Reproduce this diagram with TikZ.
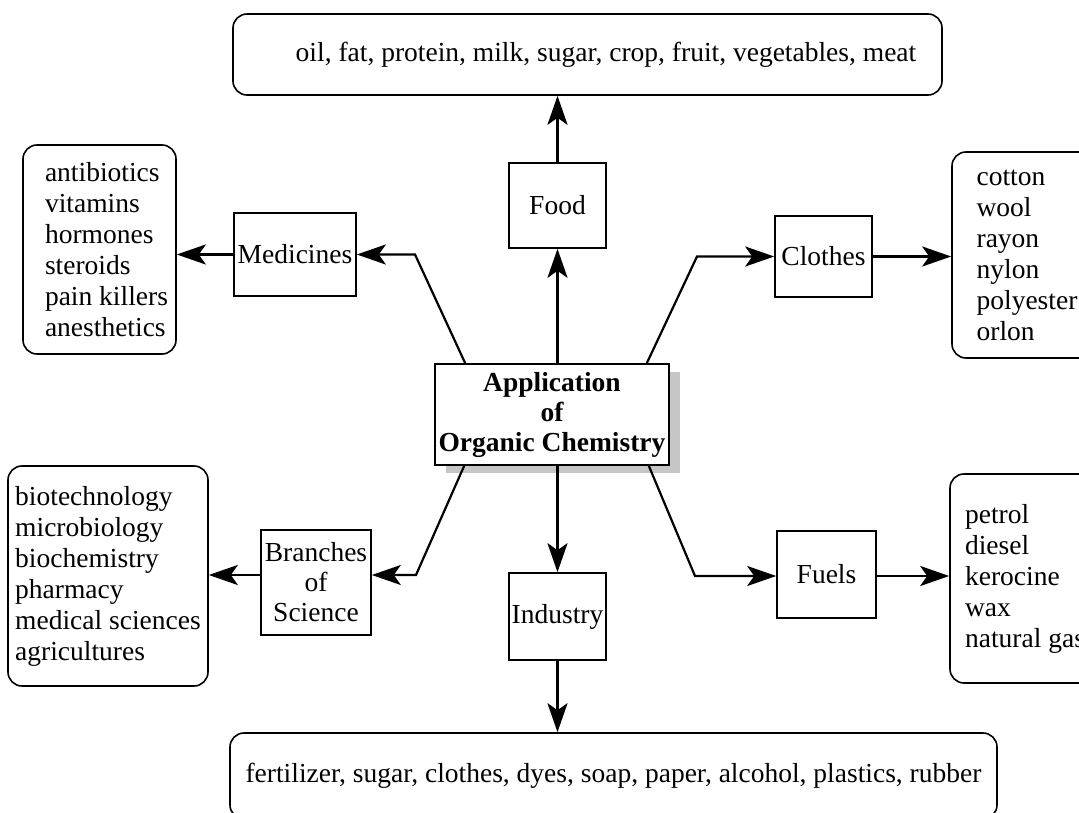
\documentclass[tikz,border=0pt]{standalone}
\usepackage{fontspec}
\setmainfont{Liberation Serif}
\usetikzlibrary{arrows.meta, positioning, shadows}

\begin{document}
\begin{tikzpicture}[
        x=1pt, y=-1pt,
        font=\fontsize{27.5}{31}\selectfont,
        b/.style={draw, line width=1.6pt, align=center, inner sep=2pt},
        lst/.style={draw, line width=1.6pt, rounded corners=14pt, align=left, inner sep=2pt},
        rel/.style={-{Stealth[length=29pt, width=20pt, inset=7pt]}, line width=2.8pt},
        knee/.style={-{Stealth[length=29pt, width=20pt, inset=7pt]}, line width=2.2pt}
    ]
        \useasboundingbox (0,0) rectangle (1079,813);
        % centre
        \node[b, minimum width=234pt, minimum height=101pt, font=\fontsize{27.5}{30}\selectfont\bfseries,
            drop shadow={shadow xshift=11pt, shadow yshift=-8pt, fill=gray!45, opacity=1}, fill=white]
            (app) at (552,414.5) {Application\\of\\Organic Chemistry};
        % categories
        \node[b, minimum width=97pt, minimum height=85pt] (food) at (557.5,205.5) {Food};
        \node[b, minimum width=122pt, minimum height=83pt] (med) at (295,254.5) {Medicines};
        \node[b, minimum width=97pt, minimum height=81pt] (clo) at (823.5,256.5) {Clothes};
        \node[b, minimum width=110pt, minimum height=105pt, font=\fontsize{27.5}{30}\selectfont] (sci) at (316,582.5) {Branches\\of\\Science};
        \node[b, minimum width=97pt, minimum height=87pt] (ind) at (557.5,616.5) {Industry};
        \node[b, minimum width=99pt, minimum height=87pt] (fuel) at (826.5,574.5) {Fuels};
        % lists
        \node[lst, minimum width=709pt, minimum height=81pt] (foodl) at (587.5,54.5)
            {\hspace*{37pt}oil, fat, protein, milk, sugar, crop, fruit, vegetables, meat};
        \node[lst, minimum width=153pt, minimum height=209pt] (medl) at (99.5,249.5)
            {\hspace*{14pt}antibiotics\\\hspace*{14pt}vitamins\\\hspace*{14pt}hormones\\
             \hspace*{14pt}steroids\\\hspace*{14pt}pain killers\\\hspace*{14pt}anesthetics};
        \node[lst, minimum width=150pt, minimum height=206pt] (clol) at (1027,255)
            {cotton\\wool\\rayon\\nylon\\polyester\\orlon};
        \node[lst, minimum width=200pt, minimum height=220pt] (scil) at (108,576)
            {biotechnology\\microbiology\\biochemistry\\pharmacy\\medical sciences\\agricultures};
        \node[lst, minimum width=150pt, minimum height=209pt] (fuell) at (1025,578.5)
            {petrol\\diesel\\kerocine\\wax\\natural gas};
        \node[lst, minimum width=767pt, minimum height=86pt] (indl) at (613.5,776)
            {fertilizer, sugar, clothes, dyes, soap, paper, alcohol, plastics, rubber};
        % bends
        \coordinate (medk) at (415,254.5);
        \coordinate (clok) at (697,256.5);
        \coordinate (scik) at (416,575);
        \coordinate (fuelk) at (695,576);
        % connectors
        \draw[rel] (food.south |- app.north) -- (food.south);
        \draw[rel] (food.north) -- (food.north |- foodl.south);
        \draw[rel] (ind.north |- app.south) -- (ind.north);
        \draw[rel] (ind.south) -- (ind.south |- indl.north);
        \draw[knee] ([xshift=31pt]app.north west) -- (medk) -- (med.east);
        \draw[knee] ([xshift=-23pt]app.north east) -- (clok) -- (clo.west);
        \draw[knee] ([xshift=30pt]app.south west) -- (scik) -- (sci.east |- scik);
        \draw[knee] ([xshift=-21pt]app.south east) -- (fuelk) -- (fuel.west |- fuelk);
        \draw[rel] (med.west) -- (medl.east |- med.west);
        \draw[rel] (clo.east) -- (clol.west |- clo.east);
        \draw[rel] (sci.west |- scik) -- (scil.east |- scik);
        \draw[rel] (fuel.east |- fuelk) -- (fuell.west |- fuelk);
    \end{tikzpicture}
\end{document}
